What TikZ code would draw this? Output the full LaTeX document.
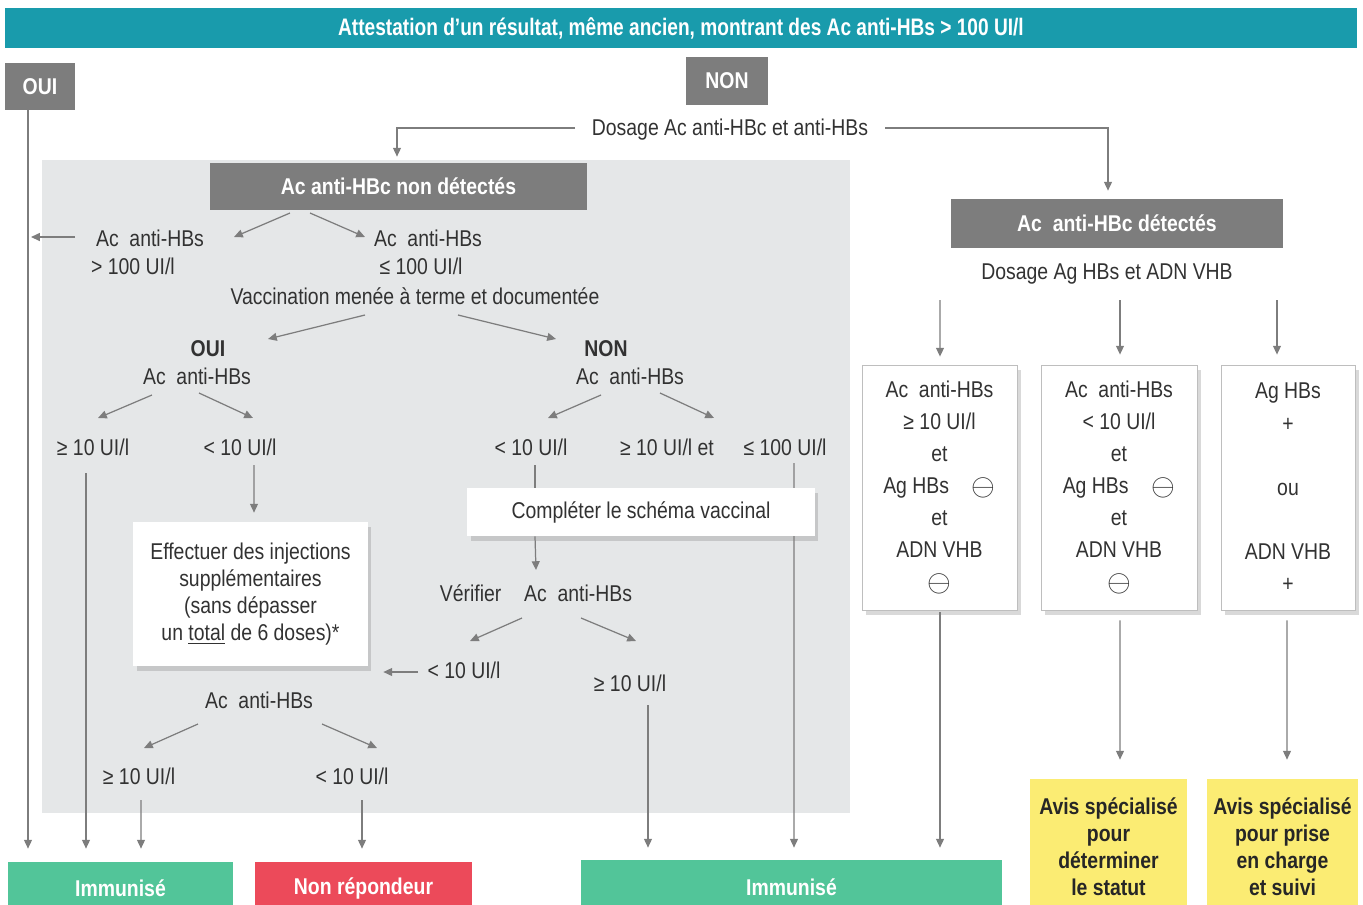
\documentclass[tikz,border=0pt]{standalone}
\usepackage{fontspec}
\setmainfont{Liberation Sans}[FakeStretch=0.85]
\newfontfamily\headfont{Liberation Sans}[FakeStretch=0.8]
\usetikzlibrary{arrows.meta,calc,shadows}

\definecolor{bannerteal}{RGB}{25,155,172}
\definecolor{boxgray}{RGB}{125,125,125}
\definecolor{bggray}{RGB}{229,231,232}
\definecolor{okgreen}{RGB}{82,197,153}
\definecolor{badred}{RGB}{236,74,90}
\definecolor{avisyellow}{RGB}{251,236,115}
\definecolor{linegray}{RGB}{125,125,125}
\definecolor{txtgray}{RGB}{50,50,50}

\newcommand{\circneg}{\raisebox{-0.15ex}{\scalebox{1.45}{$\ominus$}}}

\tikzstyle{lbl}=[text=txtgray, inner sep=1pt, font=\fontsize{13}{16}\selectfont]
\tikzstyle{banner}=[fill=bannerteal, text=white, font=\headfont\bfseries\fontsize{13.6}{16}\selectfont]
\tikzstyle{graybox}=[fill=boxgray, text=white, font=\bfseries\fontsize{13}{16}\selectfont]
\tikzstyle{whitebox}=[fill=white, text=txtgray, align=center, drop shadow={shadow xshift=2pt, shadow yshift=-3pt, opacity=0.3}]
\tikzstyle{outcome}=[text=white, font=\bfseries\fontsize{13}{16}\selectfont]
\tikzstyle{avis}=[fill=avisyellow, text=black!85, align=center, font=\bfseries\fontsize{13}{15.3}\selectfont]
\tikzstyle{arr}=[draw=linegray, line width=0.7pt, -{Triangle[length=5pt,width=4.5pt]}]
\tikzstyle{plain}=[draw=linegray, line width=0.7pt]

\begin{document}
\begin{tikzpicture}[x=0.02cm,y=-0.02cm]
\useasboundingbox (0,0) rectangle (1363,904);

\fill[bggray] (42,160) rectangle (850,813);

\node[banner, minimum width=27.04cm, minimum height=0.8cm] (title) at (681,28) {Attestation d’un résultat, même ancien, montrant des Ac anti-HBs > 100 UI/l};
\node[graybox, minimum width=1.4cm, minimum height=0.94cm] (oui) at (40,86.5) {OUI};
\node[graybox, minimum width=1.64cm, minimum height=0.96cm] (non) at (727,81) {NON};
\node[lbl] (dosage1) at (730,130) {Dosage Ac anti-HBc et anti-HBs};

\node[graybox, minimum width=7.54cm, minimum height=0.94cm] (nondet) at (398.5,186.5) {Ac anti-HBc non détectés};
\node[lbl] (hbsgt) at (150,238) {Ac~ anti-HBs};
\node[lbl] (gt100) at (133,266) {> 100 UI/l};
\node[lbl] (hbsle) at (428,238) {Ac~ anti-HBs};
\node[lbl] (le100) at (421,266) {≤ 100 UI/l};
\node[lbl] (vacc) at (415,296) {Vaccination menée à terme et documentée};

\node[lbl, font=\bfseries\fontsize{13}{16}\selectfont] (oui2) at (208,349) {OUI};
\node[lbl] (ouiAc) at (197,376) {Ac~ anti-HBs};
\node[lbl, font=\bfseries\fontsize{13}{16}\selectfont] (non2) at (606,349) {NON};
\node[lbl] (nonAc) at (630,376) {Ac~ anti-HBs};

\node[lbl] (ouiGe) at (93,447) {≥ 10 UI/l};
\node[lbl] (ouiLt) at (240,447) {< 10 UI/l};
\node[lbl] (nonLt) at (531,447) {< 10 UI/l};
\node[lbl] (nonGe) at (667,447) {≥ 10 UI/l et};
\node[lbl] (nonLe) at (785,447) {≤ 100 UI/l};

\node[lbl] (verif) at (536,593) {Vérifier\quad Ac~ anti-HBs};
\node[lbl] (verLt) at (464,670) {< 10 UI/l};
\node[lbl] (verGe) at (630,683) {≥ 10 UI/l};
\node[lbl] (effAc) at (259,700) {Ac~ anti-HBs};
\node[lbl] (effGe) at (139,776) {≥ 10 UI/l};
\node[lbl] (effLt) at (352,776) {< 10 UI/l};

\node[graybox, minimum width=6.64cm, minimum height=0.98cm] (det) at (1117,223.5) {Ac~ anti-HBc détectés};
\node[lbl] (dosage2) at (1107,274) {Dosage Ag HBs et ADN VHB};

\node[outcome, fill=okgreen, minimum width=4.5cm, minimum height=1.04cm] (imm1) at (120.5,888) {Immunisé};
\node[outcome, fill=badred, minimum width=4.34cm, minimum height=1.04cm] (nonrep) at (363.5,888) {Non répondeur};
\node[outcome, fill=okgreen, minimum width=8.42cm, minimum height=1.08cm] (imm2) at (791.5,887) {Immunisé};
\node[avis, minimum width=3.14cm, minimum height=2.7cm] (yel1) at (1108.5,846.5) {Avis spécialisé\\pour\\déterminer\\le statut};
\node[avis, minimum width=2.9cm, minimum height=2.7cm] (yel2) at (1282.5,846.5) {Avis spécialisé\\pour prise\\en charge\\et suivi};

\draw[arr] ($(nonLe)+(9,16)$) -- ($(imm2.north)+(2.5,-12)$);

\node[whitebox, minimum width=4.7cm, minimum height=2.88cm, font=\fontsize{13}{15.3}\selectfont] (effect) at (250.5,594) {Effectuer des injections\\supplémentaires\\(sans dépasser\\un \underline{total} de 6 doses)*};
\node[whitebox, minimum width=6.96cm, minimum height=0.96cm, font=\fontsize{13}{16}\selectfont] (complete) at (641,512) {Compléter le schéma vaccinal};

\node[whitebox, draw=linegray!50, line width=0.5pt, minimum width=3.1cm, minimum height=4.9cm, font=\fontsize{13}{18.3}\selectfont] (boxA) at (939.5,487.5) {Ac~ anti-HBs\\≥ 10 UI/l\\et\\Ag HBs\quad\circneg\\et\\ADN VHB\\\circneg};
\node[whitebox, draw=linegray!50, line width=0.5pt, minimum width=3.12cm, minimum height=4.9cm, font=\fontsize{13}{18.3}\selectfont] (boxB) at (1119,487.5) {Ac~ anti-HBs\\< 10 UI/l\\et\\Ag HBs\quad\circneg\\et\\ADN VHB\\\circneg};
\node[whitebox, draw=linegray!50, line width=0.5pt, minimum width=2.68cm, minimum height=4.9cm, font=\fontsize{13}{18.3}\selectfont] (boxC) at (1288,487.5) {Ag HBs\\+\\\mbox{}\\ou\\\mbox{}\\ADN VHB\\+};

\draw[arr] ($(dosage1)+(-155,-2)$) -| ($(nondet.north)+(-1.5,-6)$);
\draw[arr] ($(dosage1)+(155,-2)$) -| ($(det.north)+(-9,-8)$);
\draw[arr] ($(oui.south)+(-12,0)$) -- ($(imm1.north)+(-92.5,-13)$);
\draw[arr] ($(hbsgt)+(-75,-1)$) -- ($(hbsgt)+(-119,-1)$);

\draw[arr] ($(nondet)+(-108.5,26.5)$) -- ($(hbsgt)+(84,-1)$);
\draw[arr] ($(nondet)+(-88.5,26.5)$) -- ($(hbsle)+(-63,-1)$);
\draw[arr] ($(vacc)+(-50,19)$) -- ($(oui2)+(60,-10)$);
\draw[arr] ($(vacc)+(43,19)$) -- ($(non2)+(-50,-10)$);
\draw[arr] ($(ouiAc)+(-45,19)$) -- ($(ouiGe)+(5,-29)$);
\draw[arr] ($(ouiAc)+(2,17)$) -- ($(ouiLt)+(13,-29)$);
\draw[arr] ($(nonAc)+(-29,19)$) -- ($(nonLt)+(17,-29)$);
\draw[arr] ($(nonAc)+(30,17)$) -- ($(nonGe)+(47,-29)$);

\draw[arr] ($(ouiGe)+(-7,26)$) -- ($(imm1.north)+(-34.5,-13)$);
\draw[arr] ($(ouiLt)+(14,18)$) -- ($(effect.north)+(3.5,-9)$);
\draw[plain] ($(nonLt)+(4,18)$) -- ($(complete.north)+(-106,0)$);
\draw[arr] ($(complete.south)+(-106,0)$) -- ($(verif)+(0,-23)$);
\draw[arr] ($(verif)+(-14,25)$) -- ($(verLt)+(6,-29)$);
\draw[arr] ($(verif)+(45,25)$) -- ($(verGe)+(6,-42)$);
\draw[arr] ($(verLt)+(-46,2)$) -- ($(effect.east)+(15,78)$);
\draw[arr] ($(verGe)+(18,22)$) -- ($(imm2.north)+(-143.5,-12)$);
\draw[arr] ($(effAc)+(-61,24)$) -- ($(effGe)+(5,-28)$);
\draw[arr] ($(effAc)+(63,24)$) -- ($(effLt)+(25,-28)$);
\draw[arr] ($(effGe)+(2,24)$) -- ($(imm1.north)+(20.5,-13)$);
\draw[arr] ($(effLt)+(10,24)$) -- ($(nonrep.north)+(-1.5,-13)$);

\draw[arr] ($(dosage2)+(-167,26)$) -- ($(boxA.north)+(0.5,-8)$);
\draw[arr] ($(dosage2)+(13,26)$) -- ($(boxB.north)+(1,-10)$);
\draw[arr] ($(dosage2)+(170,26)$) -- ($(boxC.north)+(-11,-10)$);
\draw[arr] ($(boxA.south)+(0.5,2)$) -- ($(imm2.north)+(148.5,-12)$);
\draw[arr] ($(boxB.south)+(1,10)$) -- ($(yel1.north)+(11.5,-19)$);
\draw[arr] ($(boxC.south)+(-1,10)$) -- ($(yel2.north)+(4.5,-19)$);

\end{tikzpicture}
\end{document}
